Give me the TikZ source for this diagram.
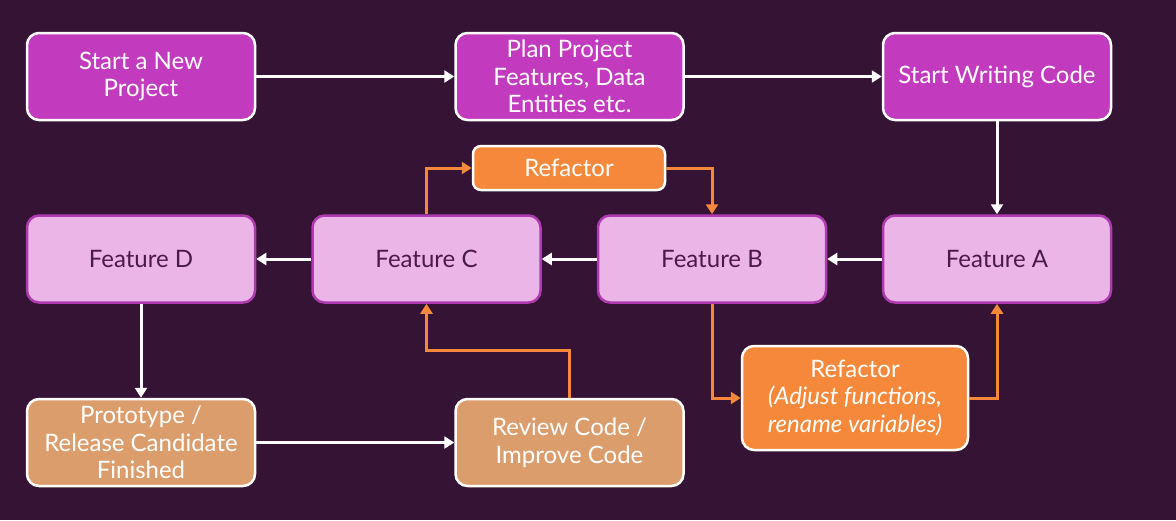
\documentclass[tikz,border=0pt]{standalone}
\usepackage{fontspec}
\setmainfont{Lato}
\usetikzlibrary{arrows.meta}
\definecolor{bgc}{HTML}{351334}
\definecolor{magc}{HTML}{C23BBF}
\definecolor{pinkc}{HTML}{EBB5E7}
\definecolor{pinkb}{HTML}{B03AB0}
\definecolor{orc}{HTML}{F5883A}
\definecolor{tanc}{HTML}{DC9D6D}
\definecolor{darkt}{HTML}{4A1A48}
\tikzset{
  box/.style={rounded corners=12pt, line width=2.5pt, minimum width=228pt, minimum height=87pt, align=center, font=\fontsize{24}{27.5}\selectfont, inner sep=1pt},
  magbox/.style={box, fill=magc, draw=white, text=white},
  featbox/.style={box, fill=pinkc, draw=pinkb, text=darkt},
  orbox/.style={box, fill=orc, draw=white, text=white},
  tanbox/.style={box, fill=tanc, draw=white, text=white},
  wline/.style={draw=white, line width=3pt, -{Triangle[length=10pt,width=12pt]}},
  oline/.style={draw=orc, line width=3pt, -{Triangle[length=10pt,width=12pt]}},
}
\begin{document}
\begin{tikzpicture}[x=1pt,y=-1pt]
\fill[bgc] (0,0) rectangle (1176,520);
\useasboundingbox (0,0) rectangle (1176,520);
\node[magbox] (s1) at (141,76.5) {Start a New\\Project};
\node[magbox] (s2) at (569.5,76.5) {Plan Project\\Features, Data\\Entities etc.};
\node[magbox] (s3) at (997,76.5) {Start Writing Code};
\node[featbox] (fd) at (141,259) {Feature D};
\node[featbox] (fc) at (426.5,259) {Feature C};
\node[featbox] (fb) at (712,259) {Feature B};
\node[featbox] (fa) at (997,259) {Feature A};
\node[orbox, minimum width=192pt, minimum height=44pt, rounded corners=8pt] (r1) at (569,168) {Refactor};
\node[orbox, minimum width=226pt, minimum height=104pt] (r2) at (855,398) {Refactor\\\textit{(Adjust functions,}\\\textit{rename variables)}};
\node[tanbox] (p) at (141,442.5) {Prototype /\\Release Candidate\\Finished};
\node[tanbox] (rc) at (569.5,442.5) {Review Code /\\Improve Code};
\coordinate (c1) at (569,350);
\coordinate (c2) at (426.5,350);
\coordinate (c3) at (426.5,168);
\coordinate (c4) at (712,168);
\coordinate (c5) at (712,398);
\coordinate (c6) at (997,398);
\draw[wline] (s1) -- (s2);
\draw[wline] (s2) -- (s3);
\draw[wline] (s3) -- (fa);
\draw[wline] (fa) -- (fb);
\draw[wline] (fb) -- (fc);
\draw[wline] (fc) -- (fd);
\draw[wline] (fd) -- (p);
\draw[wline] (p) -- (rc);
\draw[oline] (rc.north -| c1) -- (c1) -- (c2) -- (fc.south);
\draw[oline] (fc.north) -- (c3) -- (r1.west);
\draw[oline] (r1.east) -- (c4) -- (fb.north);
\draw[oline] (fb.south) -- (c5) -- (r2.west);
\draw[oline] (r2.east) -- (c6) -- (fa.south);
\end{tikzpicture}
\end{document}
